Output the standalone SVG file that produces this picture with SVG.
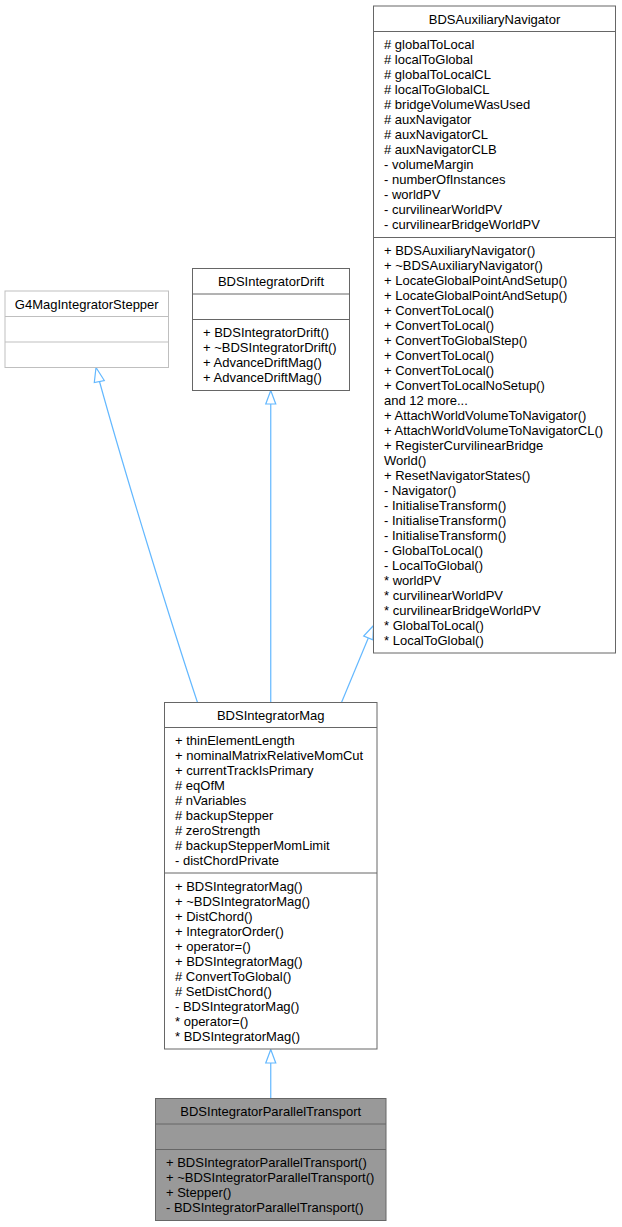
<svg xmlns="http://www.w3.org/2000/svg" width="622" height="1227" viewBox="0 0 622 1227">
<style>
text{font-family:"Liberation Sans",Arial,Helvetica,sans-serif;font-size:13px;fill:#000}
.t{text-anchor:middle}
.box{fill:#fff;stroke:#666;stroke-width:1}
.sep{stroke:#666;stroke-width:1}
.g4{fill:#fff;stroke:#bfbfbf;stroke-width:1}
.g4s{stroke:#bfbfbf;stroke-width:1}
.cur{fill:#999;stroke:#666;stroke-width:1}
.edge{fill:none;stroke:#63b8ff;stroke-width:1.2}
.ah{fill:#fff;stroke:#63b8ff;stroke-width:1.2}
</style>
<rect width="622" height="1227" fill="#fff"/>
<g id="edges">
<path class="edge" d="M270.75,702.5 L270.75,404"/>
<polygon class="ah" points="270.75,390.5 265.75,404 275.75,404"/>
<path class="edge" d="M197.5,702.5 C170,620 124,470 99.5,381.5"/>
<polygon class="ah" points="96,367.5 94.3,382.5 104.3,380.5"/>
<path class="edge" d="M341.5,702.5 L368.3,638"/>
<polygon class="ah" points="373.5,625.5 363.7,636.1 372.9,639.9"/>
<path class="edge" d="M270.75,1098.5 L270.75,1063"/>
<polygon class="ah" points="270.75,1049.5 265.75,1063 275.75,1063"/>
</g>
<g id="G4MagIntegratorStepper">
<rect class="g4" x="5" y="291" width="163.5" height="76.5"/>
<line class="g4s" x1="5" y1="316.5" x2="168.5" y2="316.5"/>
<line class="g4s" x1="5" y1="342" x2="168.5" y2="342"/>
<text class="t" x="86.75" y="308.5">G4MagIntegratorStepper</text>
</g>
<g id="BDSIntegratorDrift">
<rect class="box" x="192.5" y="268.5" width="157" height="122"/>
<line class="sep" x1="192.5" y1="294" x2="349.5" y2="294"/>
<line class="sep" x1="192.5" y1="319.5" x2="349.5" y2="319.5"/>
<text class="t" x="271" y="286">BDSIntegratorDrift</text>
<text x="203" y="337">+ BDSIntegratorDrift()</text>
<text x="203" y="352">+ ~BDSIntegratorDrift()</text>
<text x="203" y="367">+ AdvanceDriftMag()</text>
<text x="203" y="382">+ AdvanceDriftMag()</text>
</g>
<g id="BDSAuxiliaryNavigator">
<rect class="box" x="373.5" y="6" width="242" height="647"/>
<line class="sep" x1="373.5" y1="31.5" x2="615.5" y2="31.5"/>
<line class="sep" x1="373.5" y1="237.5" x2="615.5" y2="237.5"/>
<text class="t" x="494.5" y="23.5">BDSAuxiliaryNavigator</text>
<text x="384" y="49"># globalToLocal</text>
<text x="384" y="64"># localToGlobal</text>
<text x="384" y="79"># globalToLocalCL</text>
<text x="384" y="94"># localToGlobalCL</text>
<text x="384" y="109"># bridgeVolumeWasUsed</text>
<text x="384" y="124"># auxNavigator</text>
<text x="384" y="139"># auxNavigatorCL</text>
<text x="384" y="154"># auxNavigatorCLB</text>
<text x="384" y="169">- volumeMargin</text>
<text x="384" y="184">- numberOfInstances</text>
<text x="384" y="199">- worldPV</text>
<text x="384" y="214">- curvilinearWorldPV</text>
<text x="384" y="229">- curvilinearBridgeWorldPV</text>
<text x="384" y="255">+ BDSAuxiliaryNavigator()</text>
<text x="384" y="270">+ ~BDSAuxiliaryNavigator()</text>
<text x="384" y="285">+ LocateGlobalPointAndSetup()</text>
<text x="384" y="300">+ LocateGlobalPointAndSetup()</text>
<text x="384" y="315">+ ConvertToLocal()</text>
<text x="384" y="330">+ ConvertToLocal()</text>
<text x="384" y="345">+ ConvertToGlobalStep()</text>
<text x="384" y="360">+ ConvertToLocal()</text>
<text x="384" y="375">+ ConvertToLocal()</text>
<text x="384" y="390">+ ConvertToLocalNoSetup()</text>
<text x="384" y="405">and 12 more...</text>
<text x="384" y="420">+ AttachWorldVolumeToNavigator()</text>
<text x="384" y="435">+ AttachWorldVolumeToNavigatorCL()</text>
<text x="384" y="450">+ RegisterCurvilinearBridge</text>
<text x="384" y="465">World()</text>
<text x="384" y="480">+ ResetNavigatorStates()</text>
<text x="384" y="495">- Navigator()</text>
<text x="384" y="510">- InitialiseTransform()</text>
<text x="384" y="525">- InitialiseTransform()</text>
<text x="384" y="540">- InitialiseTransform()</text>
<text x="384" y="555">- GlobalToLocal()</text>
<text x="384" y="570">- LocalToGlobal()</text>
<text x="384" y="585">* worldPV</text>
<text x="384" y="600">* curvilinearWorldPV</text>
<text x="384" y="615">* curvilinearBridgeWorldPV</text>
<text x="384" y="630">* GlobalToLocal()</text>
<text x="384" y="645">* LocalToGlobal()</text>
</g>
<g id="BDSIntegratorMag">
<rect class="box" x="164.5" y="702.5" width="212.5" height="346.5"/>
<line class="sep" x1="164.5" y1="727.5" x2="377" y2="727.5"/>
<line class="sep" x1="164.5" y1="873" x2="377" y2="873"/>
<text class="t" x="270.75" y="720">BDSIntegratorMag</text>
<text x="175" y="745">+ thinElementLength</text>
<text x="175" y="760">+ nominalMatrixRelativeMomCut</text>
<text x="175" y="775">+ currentTrackIsPrimary</text>
<text x="175" y="790"># eqOfM</text>
<text x="175" y="805"># nVariables</text>
<text x="175" y="820"># backupStepper</text>
<text x="175" y="835"># zeroStrength</text>
<text x="175" y="850"># backupStepperMomLimit</text>
<text x="175" y="865">- distChordPrivate</text>
<text x="175" y="890.5">+ BDSIntegratorMag()</text>
<text x="175" y="905.5">+ ~BDSIntegratorMag()</text>
<text x="175" y="920.5">+ DistChord()</text>
<text x="175" y="935.5">+ IntegratorOrder()</text>
<text x="175" y="950.5">+ operator=()</text>
<text x="175" y="965.5">+ BDSIntegratorMag()</text>
<text x="175" y="980.5"># ConvertToGlobal()</text>
<text x="175" y="995.5"># SetDistChord()</text>
<text x="175" y="1010.5">- BDSIntegratorMag()</text>
<text x="175" y="1025.5">* operator=()</text>
<text x="175" y="1040.5">* BDSIntegratorMag()</text>
</g>
<g id="BDSIntegratorParallelTransport">
<rect class="cur" x="155.5" y="1098.5" width="230.5" height="122"/>
<line class="sep" x1="155.5" y1="1124" x2="386" y2="1124"/>
<line class="sep" x1="155.5" y1="1149.5" x2="386" y2="1149.5"/>
<text class="t" x="270.75" y="1116">BDSIntegratorParallelTransport</text>
<text x="166" y="1167">+ BDSIntegratorParallelTransport()</text>
<text x="166" y="1182">+ ~BDSIntegratorParallelTransport()</text>
<text x="166" y="1197">+ Stepper()</text>
<text x="166" y="1212">- BDSIntegratorParallelTransport()</text>
</g>
</svg>
